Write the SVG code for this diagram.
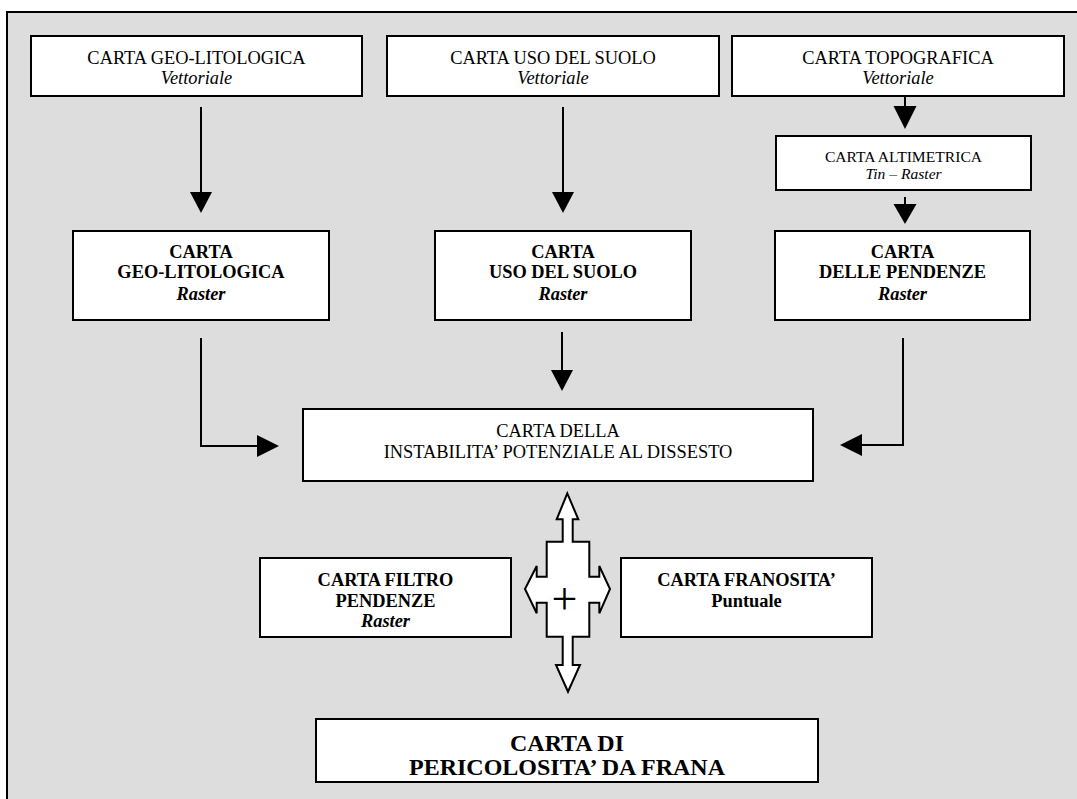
<svg xmlns="http://www.w3.org/2000/svg" width="1077" height="799" viewBox="0 0 1077 799">
<style>
.box{fill:#fff;stroke:#000;stroke-width:2}
.t{font-family:"Liberation Serif","Times New Roman",serif;font-size:18.4px;fill:#000;text-anchor:middle}
.s{font-size:15.6px}
.b{font-weight:bold}
.i{font-style:italic}
.big{font-size:24px}
.ln{fill:none;stroke:#000;stroke-width:2}
.hd{fill:#000;stroke:none}
</style>
<rect x="0" y="0" width="1077" height="799" fill="#fff"/>
<rect x="7" y="12" width="1090" height="810" fill="#dddddd" stroke="#000" stroke-width="2"/>

<g id="connectors">
  <line class="ln" x1="201" y1="107" x2="201" y2="195"/>
  <polygon class="hd" points="190,192 212,192 201,213"/>
  <line class="ln" x1="563" y1="107" x2="563" y2="195"/>
  <polygon class="hd" points="552,192 574,192 563,213"/>
  <line class="ln" x1="905" y1="97" x2="905" y2="108"/>
  <polygon class="hd" points="893.5,106 916.5,106 905,129"/>
  <line class="ln" x1="905" y1="197" x2="905" y2="206"/>
  <polygon class="hd" points="893.5,204 916.5,204 905,224"/>
  <polyline class="ln" points="201,338 201,446 260,446"/>
  <polygon class="hd" points="257,435 257,457 279,446"/>
  <line class="ln" x1="562" y1="332" x2="562" y2="373"/>
  <polygon class="hd" points="551,370 573,370 562,391"/>
  <polyline class="ln" points="903,338 903,445 860,445"/>
  <polygon class="hd" points="862,434 862,456 840,445"/>
  <path d="M567.3,493.3 L578.3,519.3 L572.7,519.3 L572.7,541.7 L589.3,541.7 L589.3,576.7 L599.3,576.7 L599.3,566 L610,589 L599.3,613.3 L599.3,602.7 L589.3,602.7 L589.3,636.7 L572.7,636.7 L572.7,665 L580,665 L568,691.7 L556,665 L562.7,665 L562.7,636.7 L546.7,636.7 L546.7,602.7 L536.7,602.7 L536.7,613.3 L525,589 L536.7,566 L536.7,576.7 L546.7,576.7 L546.7,541.7 L562.7,541.7 L562.7,519.3 L556.7,519.3 Z" fill="#fff" stroke="#000" stroke-width="2" stroke-linejoin="miter"/>
  <text class="t" x="564.5" y="614" style="font-size:46px">+</text>
</g>

<g id="n-geolito-vett">
  <rect class="box" x="31" y="36" width="331" height="60"/>
  <text class="t" x="196.5" y="64">CARTA GEO-LITOLOGICA</text>
  <text class="t i" x="196.5" y="84">Vettoriale</text>
</g>
<g id="n-uso-vett">
  <rect class="box" x="387" y="36" width="332" height="60"/>
  <text class="t" x="553" y="64">CARTA USO DEL SUOLO</text>
  <text class="t i" x="553" y="84">Vettoriale</text>
</g>
<g id="n-topo-vett">
  <rect class="box" x="732" y="36" width="332" height="60"/>
  <text class="t" x="898" y="64">CARTA TOPOGRAFICA</text>
  <text class="t i" x="898" y="84">Vettoriale</text>
</g>
<g id="n-altimetrica">
  <rect class="box" x="776" y="136" width="255" height="54"/>
  <text class="t s" x="903.5" y="162">CARTA ALTIMETRICA</text>
  <text class="t s i" x="903.5" y="179">Tin – Raster</text>
</g>
<g id="n-geolito-raster">
  <rect class="box" x="73" y="231" width="256" height="89"/>
  <text class="t b" x="201" y="258">CARTA</text>
  <text class="t b" x="201" y="278">GEO-LITOLOGICA</text>
  <text class="t b i" x="201" y="300">Raster</text>
</g>
<g id="n-uso-raster">
  <rect class="box" x="435" y="231" width="256" height="89"/>
  <text class="t b" x="563" y="258">CARTA</text>
  <text class="t b" x="563" y="278">USO DEL SUOLO</text>
  <text class="t b i" x="563" y="300">Raster</text>
</g>
<g id="n-pendenze-raster">
  <rect class="box" x="775" y="231" width="255" height="89"/>
  <text class="t b" x="902.5" y="258">CARTA</text>
  <text class="t b" x="902.5" y="278">DELLE PENDENZE</text>
  <text class="t b i" x="902.5" y="300">Raster</text>
</g>
<g id="n-instabilita">
  <rect class="box" x="303" y="409" width="510" height="72"/>
  <text class="t" x="558" y="437">CARTA DELLA</text>
  <text class="t" x="558" y="458">INSTABILITA’ POTENZIALE AL DISSESTO</text>
</g>
<g id="n-filtro">
  <rect class="box" x="260" y="558" width="251" height="79"/>
  <text class="t b" x="385.5" y="586">CARTA FILTRO</text>
  <text class="t b" x="385.5" y="607">PENDENZE</text>
  <text class="t b i" x="385.5" y="627">Raster</text>
</g>
<g id="n-franosita">
  <rect class="box" x="621" y="558" width="251" height="79"/>
  <text class="t b" x="746.5" y="586">CARTA FRANOSITA’</text>
  <text class="t b" x="746.5" y="607">Puntuale</text>
</g>
<g id="n-pericolosita">
  <rect class="box" x="316" y="719" width="502" height="63"/>
  <text class="t b big" x="567" y="751">CARTA DI</text>
  <text class="t b big" x="567" y="775">PERICOLOSITA’ DA FRANA</text>
</g>
</svg>
